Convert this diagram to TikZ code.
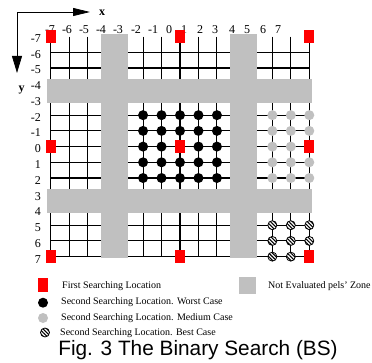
\documentclass[tikz,border=0pt]{standalone}
\usepackage{fontspec}
\setmainfont{Liberation Serif}
\newfontfamily\capfont{Liberation Sans}
\usetikzlibrary{arrows.meta,patterns.meta}
\definecolor{firstred}{RGB}{255,0,0}
\definecolor{zonegray}{RGB}{192,192,192}
\tikzset{
  gridline/.style={line width=1.1pt},
  zone/.style={fill=zonegray},
  firstloc/.style={fill=firstred,minimum width=10pt,minimum height=13pt,inner sep=0pt},
  worstdot/.style={circle,fill=black,minimum size=10pt,inner sep=0pt},
  mediumdot/.style={circle,fill=zonegray,minimum size=10pt,inner sep=0pt},
  bestdot/.style={circle,draw=black,line width=0.8pt,fill=white,minimum size=9pt,inner sep=0pt,
    postaction={pattern={Lines[angle=-45,distance=2.6pt,line width=1.1pt]}}},
  ticklabel/.style={font=\fontsize{12}{12}\selectfont,inner sep=0pt},
  legendtext/.style={font=\fontsize{10}{10}\selectfont,anchor=west,inner sep=0pt}
}
\begin{document}
\begin{tikzpicture}[x=1pt,y=-1pt]
        \useasboundingbox (0,0) rectangle (372,363);
        % Axes
        \coordinate (org) at (17,12);
        \coordinate (xend) at (90,12);
        \coordinate (yend) at (17,73);
        \draw[line width=0.8pt,{Triangle[length=17pt,width=10pt]}-{Triangle[length=17pt,width=8pt]}] (yend) -- (org) -- (xend);
        \node[font=\bfseries\fontsize{12}{12}\selectfont] (xlab) at (102,13) {x};
        \node[font=\bfseries\fontsize{12}{12}\selectfont] (ylab) at (21.5,90) {y};
        % Column and row numbers
        \foreach \v/\px in {-7/50,-6/67,-5/84,-4/101,-3/118,-2/136,-1/153,0/169,1/184,2/200,3/215,4/232,5/247,6/263,7/278}
            \node[ticklabel] (cx\v) at (\px,30) {\v};
        \foreach \v [count=\k from 0] in {-7,...,7}
            \node[ticklabel,anchor=east] (ry\v) at (41,{38.3+15.79*\k}) {\v};
        \begin{scope}[shift={(180,146.6)},x=18.47pt,y=-15.72pt]
            % Search grid
            \foreach \c in {-7,...,7}
                \draw[gridline] (\c,-7) -- (\c,7);
            \foreach \r in {-6,...,7}
                \draw[gridline] (-7,\r) -- (7,\r);
            % Not evaluated zones
            \foreach \a in {-4,3} {
                \fill[zone] (\a-0.27,-7.17) rectangle (\a+1.16,7.07);
                \fill[zone] (-7.18,\a-0.28) rectangle (7.13,\a+1.25);
            }
            % Second searching locations
            \foreach \c in {-2,...,2}
                \foreach \r in {-2,...,2} {
                    \ifnum\numexpr\c*\c+\r*\r\relax>0 \node[worstdot] (w\c\r) at (\c,\r) {};\fi
                }
            \foreach \c in {5,6,7}
                \foreach \r in {-2,...,2} {
                    \ifnum\numexpr(\c-7)*(\c-7)+\r*\r\relax>0 \node[mediumdot] (m\c\r) at (\c,\r) {};\fi
                }
            \foreach \c in {5,6,7}
                \foreach \r in {5,6,7} {
                    \ifnum\numexpr(\c-7)*(\c-7)+(\r-7)*(\r-7)\relax>0 \node[bestdot] (b\c\r) at (\c,\r) {};\fi
                }
            % First searching locations
            \foreach \c in {-7,0,7}
                \foreach \r in {-7,0,7}
                    \node[firstloc] (f\c\r) at (\c,\r) {};
        \end{scope}
        % Legend
        \node[firstloc,minimum height=14pt] (keyfirst) at (43,285) {};
        \node[legendtext] (txtfirst) at (62,286) {First Searching Location};
        \node[zone,minimum size=17pt,inner sep=0pt] (keyzone) at (247.5,285.5) {};
        \node[legendtext] (txtzone) at (268,286) {Not Evaluated pels' Zone};
        \node[worstdot] (keyworst) at (43,302.7) {};
        \node[legendtext] (txtworst) at (61,302.5) {Second Searching Location. Worst Case};
        \node[mediumdot] (keymedium) at (43,318) {};
        \node[legendtext] (txtmedium) at (61,318) {Second Searching Location. Medium Case};
        \node[bestdot] (keybest) at (45,332.5) {};
        \node[legendtext] (txtbest) at (60,333) {Second Searching Location. Best Case};
        \node[font=\capfont\fontsize{20.8}{22}\selectfont] (caption) at (198,350.5) {Fig. 3 The Binary Search (BS)};
    \end{tikzpicture}
\end{document}
